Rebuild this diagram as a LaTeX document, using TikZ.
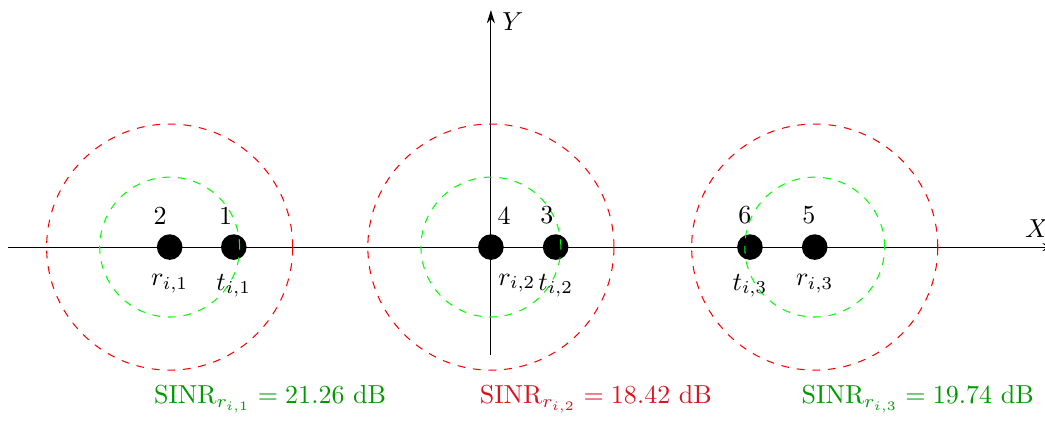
\documentclass[tikz,border=0pt]{standalone}
\usepackage{amsmath}
\usetikzlibrary{arrows.meta,positioning}
\definecolor{SinrGreen}{HTML}{009900}
\definecolor{SinrRed}{HTML}{D9141E}
\tikzset{
  user/.style={circle, fill=black, inner sep=0pt, minimum size=0.346cm},
  outer/.style={red, dashed},
  inner/.style={green, dashed},
  axis/.style={-{Stealth[length=1.8mm, width=1.1mm, inset=0.6mm]}}
}

\begin{document}
\begin{tikzpicture}[x=0.875cm, y=0.875cm]
  \useasboundingbox (-7.58,-2.672) rectangle (8.556,3.815);
  % axes
  \coordinate (xl) at (-7.46,0);
  \coordinate (xr) at (8.72,0);
  \coordinate (yb) at (0,-1.67);
  \coordinate (yt) at (0,3.66);
  \draw[axis] (xl) -- (xr);
  \draw[axis] (yb) -- (yt);
  \node (xlab) at (8.43,0.28) {$X$};
  \node (ylab) at (0.34,3.48) {$Y$};
  % transmitters and receivers
  \foreach \name/\x in {r1/-4.96, t1/-3.97, r2/0, t2/1, t3/4, r3/5}
    {\node[user] (\name) at (\x,0) {};}
  % ranges around the receivers
  \foreach \name in {r1, r2, r3}
    {\draw[outer] (\name) circle (1.9);
     \draw[inner] (\name) circle (1.08);}
  % indices
  \foreach \dot/\num/\dx in {r1/2/-1.3mm, t1/1/-1.1mm, r2/4/1.8mm, t2/3/-1.2mm, t3/6/-0.7mm, r3/5/-0.8mm}
    {\node[above=0pt of \dot, xshift=\dx] (n\num) {\num};}
  \node[below=0.6mm of r1] (lr1) {$r_{i,1}$};
  \node[below=0.6mm of t1] (lt1) {$t_{i,1}$};
  \node[below right=1.1mm and -1.5mm of r2] (lr2) {$r_{i,2}$};
  \node[below=0.6mm of t2] (lt2) {$t_{i,2}$};
  \node[below=0.6mm of t3] (lt3) {$t_{i,3}$};
  \node[below=0.6mm of r3] (lr3) {$r_{i,3}$};
  % SINR values
  \node[text=SinrGreen] (s1) at (-3.41,-2.35) {SINR$_{r_{i,1}} = 21.26$ dB};
  \node[text=SinrRed] (s2) at (1.62,-2.35) {SINR$_{r_{i,2}} = 18.42$ dB};
  \node[text=SinrGreen] (s3) at (6.59,-2.35) {SINR$_{r_{i,3}} = 19.74$ dB};
\end{tikzpicture}
\end{document}
